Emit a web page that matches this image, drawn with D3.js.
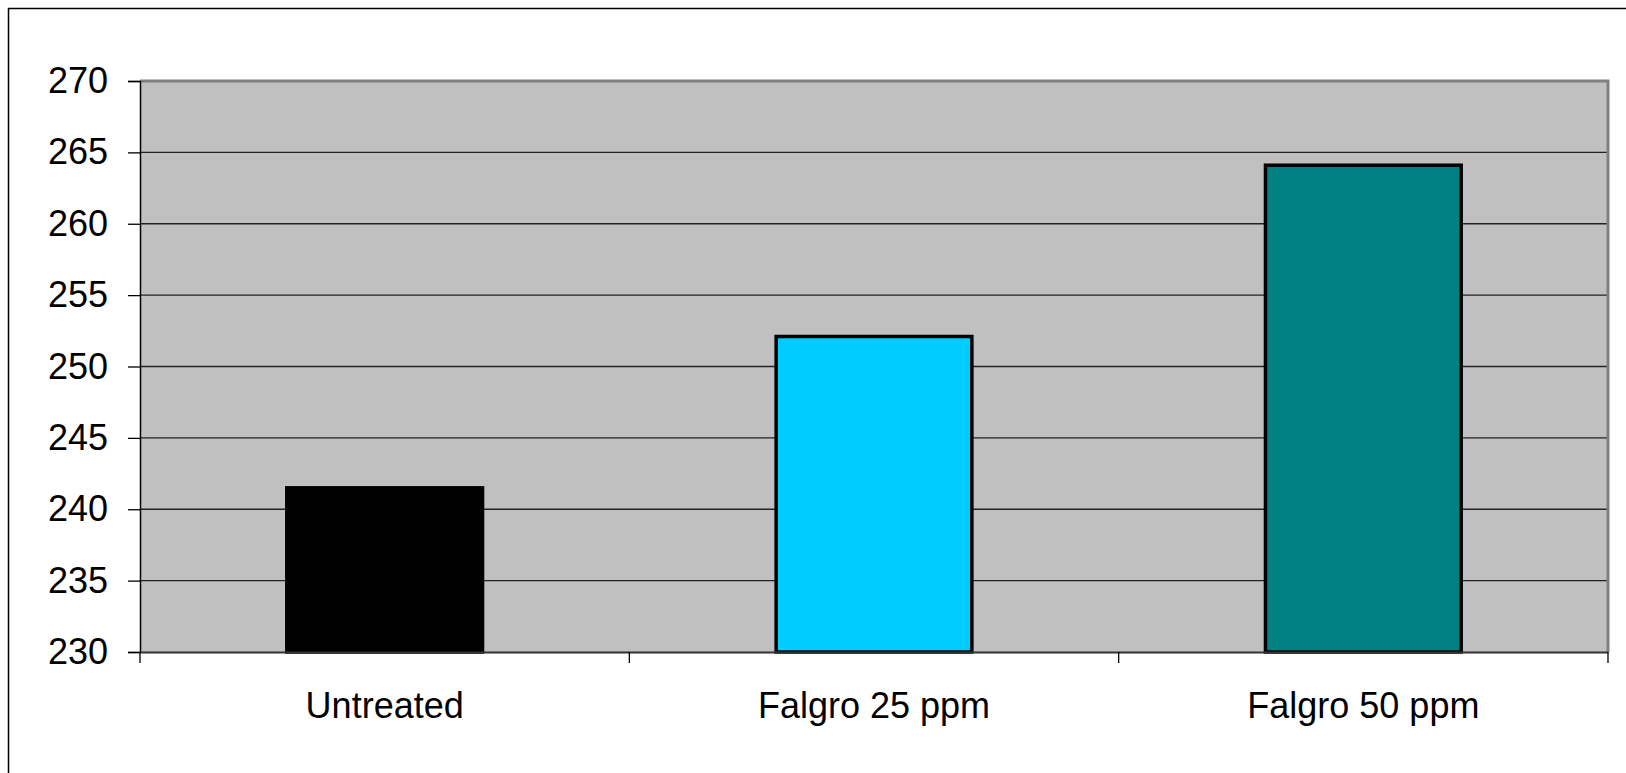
<!DOCTYPE html>
<html><head><meta charset="utf-8">
<script src="https://cdn.jsdelivr.net/npm/d3@7"></script>
<style>body{margin:0;background:#fff;}svg{display:block;}</style>
</head><body>
<svg id="chart" width="1626" height="773"></svg>
<script>
const categories = ["Untreated", "Falgro 25 ppm", "Falgro 50 ppm"];
const values = [241.5, 252.1, 264.1];
const barColors = ["#000000", "#00CCFF", "#008080"];
const yTicks = [230, 235, 240, 245, 250, 255, 260, 265, 270];

const svg = d3.select("#chart");
const m = {left: 140, right: 1608, top: 81, bottom: 652};

// outer frame
svg.append("rect").attr("x", 8.5).attr("y", 8.5).attr("width", 1700).attr("height", 900)
  .attr("fill", "none").attr("stroke", "#000").attr("stroke-width", 1.5);

const x = d3.scaleBand().domain(categories).range([m.left, m.right]).paddingInner(0.6).paddingOuter(0.3);
const xb = d3.scaleBand().domain(categories).range([m.left, m.right]);
const y = d3.scaleLinear().domain([230, 270]).range([m.bottom, m.top]);

// plot background
svg.append("rect").attr("x", m.left).attr("y", m.top).attr("width", m.right - m.left).attr("height", m.bottom - m.top)
  .attr("fill", "#C0C0C0");

// gridlines
svg.append("g").selectAll("line").data(yTicks.filter(t => t > 230 && t < 270)).join("line")
  .attr("x1", m.left).attr("x2", m.right).attr("y1", d => y(d)).attr("y2", d => y(d))
  .attr("stroke", "#222").attr("stroke-width", 1.3);

// plot border top/right
svg.append("path").attr("d", `M${m.left},${m.top}H${m.right}V${m.bottom}`)
  .attr("fill", "none").attr("stroke", "#808080").attr("stroke-width", 3);

// bars
svg.append("g").selectAll("rect").data(values).join("rect")
  .attr("x", (d, i) => x(categories[i])).attr("width", x.bandwidth())
  .attr("y", d => y(d)).attr("height", d => y(230) - y(d))
  .attr("fill", (d, i) => barColors[i]).attr("stroke", "#000").attr("stroke-width", 3.5);

// y axis
const yAxis = svg.append("g").attr("transform", `translate(${m.left},0)`)
  .call(d3.axisLeft(y).tickValues(yTicks).tickSize(12).tickPadding(20).tickFormat(d3.format("d")));
yAxis.select(".domain").attr("stroke", "#000").attr("stroke-width", 1.5);
yAxis.selectAll(".tick line").attr("stroke", "#000").attr("stroke-width", 1.3);
yAxis.selectAll("text").attr("font-family", "Liberation Sans, Arial, sans-serif").attr("font-size", 36).attr("fill", "#000");

// x axis
const xAxis = svg.append("g").attr("transform", `translate(0,${m.bottom})`)
  .call(d3.axisBottom(xb).tickSize(0).tickPadding(40));
xAxis.select(".domain").attr("stroke", "#333").attr("stroke-width", 2);
xAxis.selectAll("text").attr("font-family", "Liberation Sans, Arial, sans-serif").attr("font-size", 36).attr("fill", "#000");
// category separators
const seps = categories.map(c => xb(c)).concat([m.right]);
svg.append("g").selectAll("line").data(seps).join("line")
  .attr("x1", d => d).attr("x2", d => d).attr("y1", m.bottom).attr("y2", m.bottom + 11)
  .attr("stroke", "#000").attr("stroke-width", 1.3);
</script>
</body></html>
